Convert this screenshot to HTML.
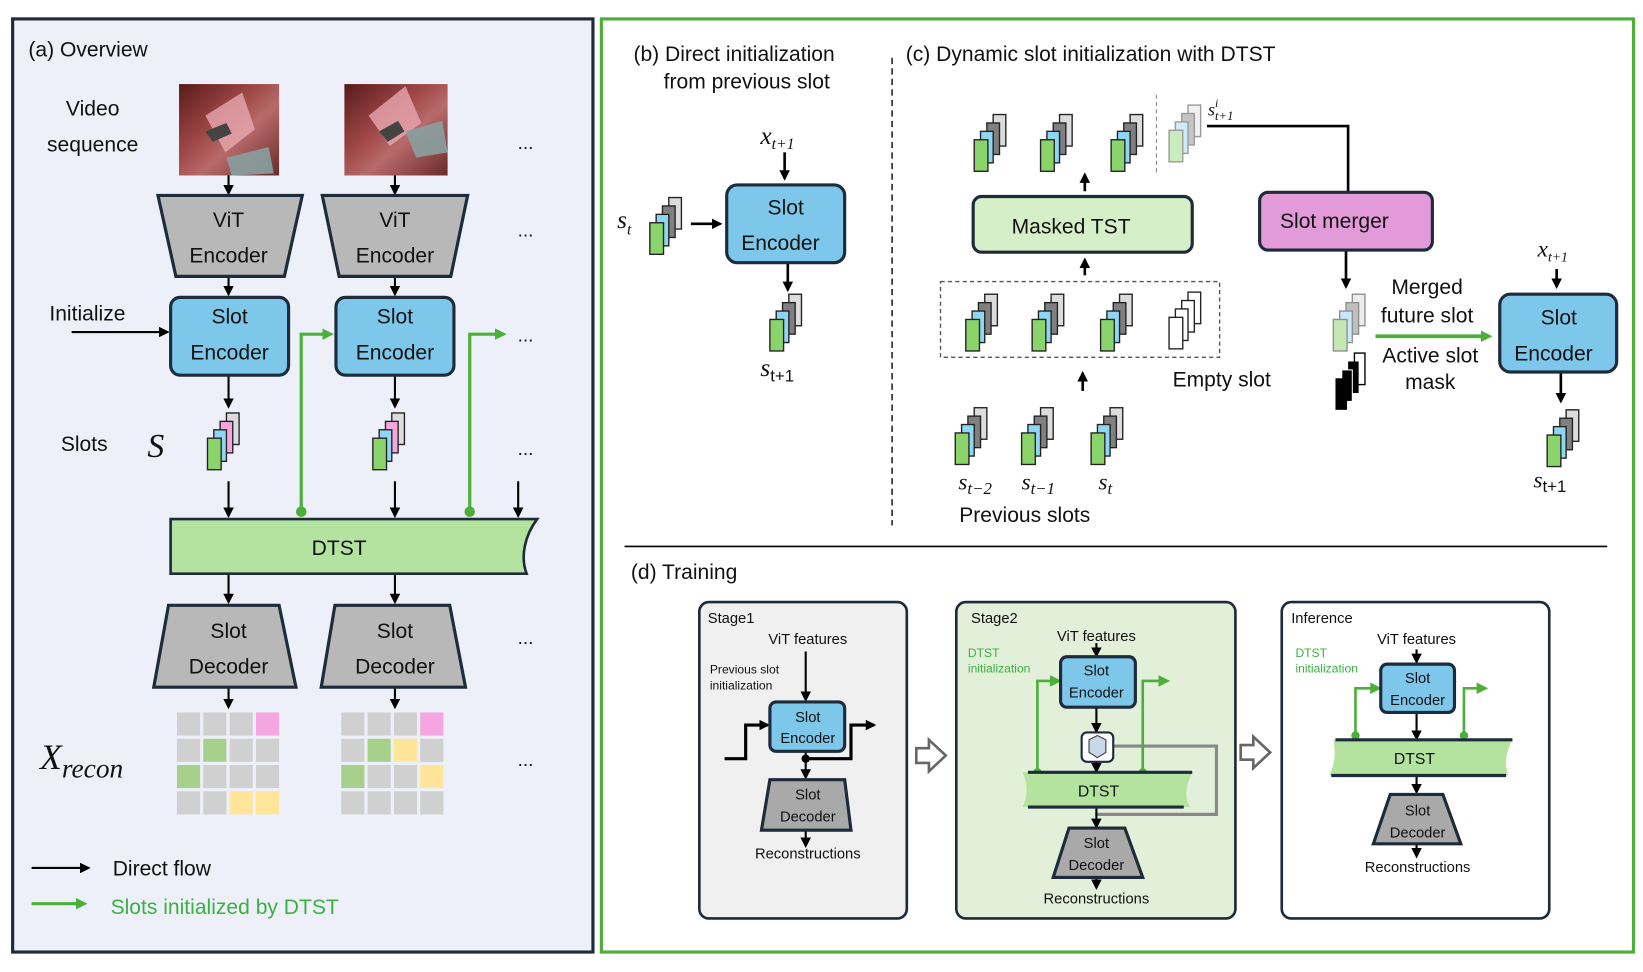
<!DOCTYPE html>
<html><head><meta charset="utf-8"><style>
html,body{margin:0;padding:0;background:#fff}
svg{display:block}
text{font-family:"Liberation Sans",sans-serif;fill:#111}
.c{text-anchor:middle}
.m{font-family:"Liberation Serif",serif;font-style:italic}
</style></head><body>
<svg width="1643" height="972" viewBox="0 0 1560 925" preserveAspectRatio="none" xmlns="http://www.w3.org/2000/svg">
<defs>
<marker id="ab" markerWidth="10" markerHeight="10" refX="8" refY="5" orient="auto" markerUnits="userSpaceOnUse"><path d="M0,0 L10,5 L0,10 Z" fill="#000"/></marker>
<marker id="ag" markerWidth="11" markerHeight="11" refX="8" refY="5.5" orient="auto" markerUnits="userSpaceOnUse"><path d="M0,0 L11,5.5 L0,11 Z" fill="#4caf3a"/></marker>
<g id="stk"><rect x="18" y="0" width="12" height="30" fill="#dcdcdc" stroke="#222" stroke-width="1.3"/><rect x="12" y="8" width="12" height="30" fill="#808080" stroke="#222" stroke-width="1.3"/><rect x="6" y="16" width="12" height="30" fill="#8fd6f2" stroke="#222" stroke-width="1.3"/><rect x="0" y="24" width="13" height="30" fill="#8bd36b" stroke="#222" stroke-width="1.3"/></g>
<g id="stkP"><rect x="18" y="0" width="12" height="30" fill="#dcdcdc" stroke="#222" stroke-width="1.3"/><rect x="12" y="8" width="12" height="30" fill="#f4a6e0" stroke="#222" stroke-width="1.3"/><rect x="6" y="16" width="12" height="30" fill="#8fd6f2" stroke="#222" stroke-width="1.3"/><rect x="0" y="24" width="13" height="30" fill="#8bd36b" stroke="#222" stroke-width="1.3"/></g>
<g id="stkE"><rect x="18" y="0" width="12" height="30" fill="#fff" stroke="#222" stroke-width="1.3"/><rect x="12" y="8" width="12" height="30" fill="#fff" stroke="#222" stroke-width="1.3"/><rect x="6" y="16" width="12" height="30" fill="#fff" stroke="#222" stroke-width="1.3"/><rect x="0" y="24" width="13" height="30" fill="#fff" stroke="#222" stroke-width="1.3"/></g>
<g id="stkK"><rect x="18" y="0" width="10" height="30" fill="#fff" stroke="#000" stroke-width="1.3"/><rect x="12" y="8" width="10" height="30" fill="#000"/><rect x="6" y="16" width="10" height="30" fill="#000" stroke="#fff" stroke-width="1"/><rect x="0" y="24" width="11" height="30" fill="#000"/></g>
<linearGradient id="img1" x1="0" y1="0" x2="1" y2="1"><stop offset="0" stop-color="#5a1a1a"/><stop offset=".4" stop-color="#a04848"/><stop offset=".6" stop-color="#b86a6a"/><stop offset="1" stop-color="#6a2a2a"/></linearGradient>
</defs>

<rect x="12" y="18" width="551" height="888" fill="#edf0f8" stroke="#1d2b3a" stroke-width="3"/>
<rect x="571" y="18" width="980" height="888" fill="#fff" stroke="#4caf3a" stroke-width="3"/>

<text x="27" y="54" font-size="20">(a) Overview</text>
<text x="88" y="110" font-size="20" class="c">Video</text>
<text x="88" y="144" font-size="20" class="c">sequence</text>
<rect x="170" y="80" width="95" height="87" fill="url(#img1)"/>
<path d="M195,110 l35,-22 l12,35 l-28,22 z" fill="#e8a8b0" opacity=".8"/><path d="M195,125 l20,-8 l5,10 l-18,8z" fill="#444"/><path d="M215,150 l40,-10 l5,25 l-40,2z" fill="#8aa0a0" opacity=".9"/>
<rect x="327" y="80" width="98" height="87" fill="url(#img1)"/>
<path d="M350,110 l35,-28 l15,35 l-30,22 z" fill="#e8a8b0" opacity=".8"/><path d="M360,125 l18,-10 l6,10 l-16,10z" fill="#444"/><path d="M385,125 l35,-10 l5,30 l-30,5z" fill="#8aa0a0" opacity=".9"/>
<text x="499" y="142" font-size="18" class="c">...</text>
<text x="499" y="225" font-size="18" class="c">...</text>
<text x="499" y="325" font-size="18" class="c">...</text>
<text x="499" y="433" font-size="18" class="c">...</text>
<text x="499" y="613" font-size="18" class="c">...</text>
<text x="499" y="729" font-size="18" class="c">...</text>

<g stroke="#000" stroke-width="2" marker-end="url(#ab)">
<line x1="217" y1="167" x2="217" y2="184"/><line x1="375" y1="167" x2="375" y2="184"/>
<line x1="217" y1="263" x2="217" y2="280"/><line x1="375" y1="263" x2="375" y2="280"/>
<line x1="217" y1="357" x2="217" y2="387"/><line x1="375" y1="357" x2="375" y2="387"/>
<line x1="217" y1="458" x2="217" y2="491"/><line x1="375" y1="458" x2="375" y2="491"/><line x1="492" y1="458" x2="492" y2="491"/>
<line x1="217" y1="546" x2="217" y2="573"/><line x1="375" y1="546" x2="375" y2="573"/>
<line x1="217" y1="654" x2="217" y2="673"/><line x1="375" y1="654" x2="375" y2="673"/>
<line x1="68" y1="316" x2="159" y2="316"/>
<line x1="30" y1="826" x2="84" y2="826"/>
</g>
<g fill="#b8b8b8" stroke="#1d2b3a" stroke-width="3">
<path d="M150,186 H287 L270,263 H167 Z"/><path d="M306,186 H444 L428,263 H322 Z"/>
<path d="M160,576 H265 L281,654 H146 Z"/><path d="M318,576 H427 L442,654 H305 Z"/>
</g>
<text x="217" y="216" font-size="20" class="c">ViT</text><text x="217" y="250" font-size="20" class="c">Encoder</text>
<text x="375" y="216" font-size="20" class="c">ViT</text><text x="375" y="250" font-size="20" class="c">Encoder</text>
<text x="217" y="607" font-size="20" class="c">Slot</text><text x="217" y="641" font-size="20" class="c">Decoder</text>
<text x="375" y="607" font-size="20" class="c">Slot</text><text x="375" y="641" font-size="20" class="c">Decoder</text>
<text x="83" y="305" font-size="20" class="c">Initialize</text>
<g fill="#7dc8ea" stroke="#1d2b3a" stroke-width="3">
<rect x="162" y="283" width="112" height="74" rx="9"/><rect x="319" y="283" width="112" height="74" rx="9"/>
</g>
<text x="218" y="308" font-size="20" class="c">Slot</text><text x="218" y="342" font-size="20" class="c">Encoder</text>
<text x="375" y="308" font-size="20" class="c">Slot</text><text x="375" y="342" font-size="20" class="c">Encoder</text>
<text x="80" y="429" font-size="20" class="c">Slots</text>
<text x="140" y="435" font-size="32" class="m">S</text>
<use href="#stkP" x="197" y="393"/><use href="#stkP" x="354" y="393"/>
<path d="M162,494 H510 C498,510 494,530 500,546 H162 Z" fill="#b4e3a0" stroke="#1d2b3a" stroke-width="2.5"/>
<text x="322" y="528" font-size="20" class="c">DTST</text>
<g stroke="#4caf3a" stroke-width="3" fill="none" marker-end="url(#ag)">
<path d="M286,487 V318 H314"/><path d="M446,487 V318 H478"/>
<line x1="30" y1="860" x2="80" y2="860"/>
</g>
<circle cx="286" cy="487" r="5" fill="#4caf3a"/><circle cx="446" cy="487" r="5" fill="#4caf3a"/>
<g>
<rect x="168" y="678" width="22" height="22" fill="#d0d0d0"/><rect x="193" y="678" width="22" height="22" fill="#d0d0d0"/><rect x="218" y="678" width="22" height="22" fill="#d0d0d0"/><rect x="243" y="678" width="22" height="22" fill="#f4a6e0"/>
<rect x="168" y="703" width="22" height="22" fill="#d0d0d0"/><rect x="193" y="703" width="22" height="22" fill="#a8d08d"/><rect x="218" y="703" width="22" height="22" fill="#d0d0d0"/><rect x="243" y="703" width="22" height="22" fill="#d0d0d0"/>
<rect x="168" y="728" width="22" height="22" fill="#a8d08d"/><rect x="193" y="728" width="22" height="22" fill="#d0d0d0"/><rect x="218" y="728" width="22" height="22" fill="#d0d0d0"/><rect x="243" y="728" width="22" height="22" fill="#d0d0d0"/>
<rect x="168" y="753" width="22" height="22" fill="#d0d0d0"/><rect x="193" y="753" width="22" height="22" fill="#d0d0d0"/><rect x="218" y="753" width="22" height="22" fill="#ffe599"/><rect x="243" y="753" width="22" height="22" fill="#ffe599"/>
<rect x="324" y="678" width="22" height="22" fill="#d0d0d0"/><rect x="349" y="678" width="22" height="22" fill="#d0d0d0"/><rect x="374" y="678" width="22" height="22" fill="#d0d0d0"/><rect x="399" y="678" width="22" height="22" fill="#f4a6e0"/>
<rect x="324" y="703" width="22" height="22" fill="#d0d0d0"/><rect x="349" y="703" width="22" height="22" fill="#a8d08d"/><rect x="374" y="703" width="22" height="22" fill="#ffe599"/><rect x="399" y="703" width="22" height="22" fill="#d0d0d0"/>
<rect x="324" y="728" width="22" height="22" fill="#a8d08d"/><rect x="349" y="728" width="22" height="22" fill="#d0d0d0"/><rect x="374" y="728" width="22" height="22" fill="#d0d0d0"/><rect x="399" y="728" width="22" height="22" fill="#ffe599"/>
<rect x="324" y="753" width="22" height="22" fill="#d0d0d0"/><rect x="349" y="753" width="22" height="22" fill="#d0d0d0"/><rect x="374" y="753" width="22" height="22" fill="#d0d0d0"/><rect x="399" y="753" width="22" height="22" fill="#d0d0d0"/>
</g>
<text x="38" y="732" font-size="34" class="m">X<tspan font-size="26" dy="8">recon</tspan></text>
<text x="107" y="833" font-size="20">Direct flow</text>
<text x="105" y="870" font-size="20" style="fill:#3cb043">Slots initialized by DTST</text>

<text x="697" y="58" font-size="20" class="c">(b) Direct initialization</text>
<text x="709" y="84" font-size="20" class="c">from previous slot</text>
<text x="722" y="137" font-size="24" class="m">x<tspan font-size="15" dy="5">t+1</tspan></text>
<g stroke="#000" stroke-width="2.5" marker-end="url(#ab)">
<line x1="745" y1="145" x2="745" y2="170"/><line x1="656" y1="213" x2="684" y2="213"/><line x1="748" y1="250" x2="748" y2="276"/>
</g>
<text x="586" y="217" font-size="24" class="m">s<tspan font-size="15" dy="6">t</tspan></text>
<use href="#stk" x="617" y="188"/>
<rect x="690" y="176" width="112" height="74" rx="10" fill="#7dc8ea" stroke="#1d2b3a" stroke-width="3"/>
<text x="746" y="204" font-size="20" class="c">Slot</text><text x="741" y="238" font-size="20" class="c">Encoder</text>
<use href="#stk" x="731" y="280"/>
<text x="722" y="358" font-size="24" class="m">s<tspan font-size="16" dy="5" font-style="normal" font-family="Liberation Sans">t+1</tspan></text>

<line x1="847" y1="55" x2="847" y2="500" stroke="#000" stroke-width="1.3" stroke-dasharray="6,4"/>
<line x1="593" y1="520" x2="1526" y2="520" stroke="#000" stroke-width="1.5"/>

<text x="860" y="58" font-size="20">(c) Dynamic slot initialization with DTST</text>
<use href="#stk" x="925" y="109"/><use href="#stk" x="988" y="109"/><use href="#stk" x="1055" y="109"/>
<line x1="1098" y1="90" x2="1098" y2="165" stroke="#888" stroke-width="1" stroke-dasharray="4,3"/>
<use href="#stk" x="1110" y="100" opacity=".45"/>
<text x="1147" y="110" font-size="17" class="m">s<tspan font-size="11" dy="-8">i</tspan><tspan font-size="12" dx="-3" dy="12">t+1</tspan></text>
<path d="M1146,120 H1280 V183" fill="none" stroke="#000" stroke-width="2.5"/>
<g stroke="#000" stroke-width="2.5" marker-end="url(#ab)">
<line x1="1030" y1="182" x2="1030" y2="166"/><line x1="1030" y1="262" x2="1030" y2="247"/><line x1="1028" y1="372" x2="1028" y2="355"/>
<line x1="1278" y1="238" x2="1278" y2="273"/><line x1="1478" y1="256" x2="1478" y2="273"/><line x1="1482" y1="354" x2="1482" y2="382"/>
</g>
<rect x="924" y="187" width="208" height="53" rx="8" fill="#d5f0c8" stroke="#1d2b3a" stroke-width="3"/>
<text x="1017" y="222" font-size="20" class="c">Masked TST</text>
<rect x="1196" y="183" width="164" height="55" rx="8" fill="#e39ad9" stroke="#1d2b3a" stroke-width="3"/>
<text x="1267" y="217" font-size="20" class="c">Slot merger</text>
<rect x="893" y="268" width="265" height="72" fill="none" stroke="#555" stroke-width="1.3" stroke-dasharray="4,3"/>
<use href="#stk" x="917" y="280"/><use href="#stk" x="980" y="280"/><use href="#stk" x="1045" y="280"/><use href="#stkE" x="1110" y="278"/>
<text x="1160" y="368" font-size="20" class="c">Empty slot</text>
<use href="#stk" x="907" y="388"/><use href="#stk" x="970" y="388"/><use href="#stk" x="1036" y="388"/>
<text x="910" y="466" font-size="22" class="m">s<tspan font-size="16" dy="4">t−2</tspan></text>
<text x="970" y="466" font-size="22" class="m">s<tspan font-size="16" dy="4">t−1</tspan></text>
<text x="1043" y="466" font-size="22" class="m">s<tspan font-size="16" dy="4">t</tspan></text>
<text x="973" y="497" font-size="20" class="c">Previous slots</text>
<use href="#stk" x="1266" y="280" opacity=".5"/>
<use href="#stkK" x="1268" y="336"/>
<text x="1355" y="280" font-size="20" class="c">Merged</text>
<text x="1355" y="307" font-size="20" class="c">future slot</text>
<text x="1358" y="345" font-size="20" class="c">Active slot</text>
<text x="1358" y="370" font-size="20" class="c">mask</text>
<line x1="1306" y1="320" x2="1414" y2="320" stroke="#4caf3a" stroke-width="3.5" marker-end="url(#ag)"/>
<text x="1460" y="244" font-size="22" class="m">x<tspan font-size="13" dy="5">t+1</tspan></text>
<rect x="1424" y="280" width="111" height="74" rx="10" fill="#7dc8ea" stroke="#1d2b3a" stroke-width="3"/>
<text x="1480" y="309" font-size="20" class="c">Slot</text><text x="1475" y="343" font-size="20" class="c">Encoder</text>
<use href="#stk" x="1469" y="390"/>
<text x="1456" y="464" font-size="22" class="m">s<tspan font-size="16" dy="4" font-style="normal" font-family="Liberation Sans">t+1</tspan></text>

<text x="599" y="551" font-size="20">(d) Training</text>
<rect x="664" y="573" width="197" height="301" rx="9" fill="#f0f0f0" stroke="#1d2b3a" stroke-width="2.5"/>
<rect x="908" y="573" width="265" height="301" rx="9" fill="#e2efd9" stroke="#1d2b3a" stroke-width="2.5"/>
<rect x="1217" y="573" width="254" height="301" rx="9" fill="#fff" stroke="#1d2b3a" stroke-width="2.5"/>
<text x="672" y="593" font-size="14">Stage1</text>
<text x="767" y="613" font-size="14" class="c">ViT features</text>
<text x="674" y="641" font-size="11.5">Previous slot</text>
<text x="674" y="656" font-size="11.5">initialization</text>
<g stroke="#000" stroke-width="2" marker-end="url(#ab)" fill="none">
<line x1="765" y1="620" x2="765" y2="666"/><line x1="765" y1="715" x2="765" y2="740"/><line x1="765" y1="790" x2="765" y2="805"/>
<path d="M688,722 H708 V690 H729" stroke-width="3"/><path d="M765,722 H808 V690 H830" stroke-width="3"/>
</g>
<circle cx="765" cy="722" r="4" fill="#000"/>
<rect x="731" y="668" width="71" height="47" rx="6" fill="#7dc8ea" stroke="#1d2b3a" stroke-width="3"/>
<text x="767" y="687" font-size="14" class="c">Slot</text><text x="767" y="707" font-size="14" class="c">Encoder</text>
<path d="M731,742 H802 L808,790 H723 Z" fill="#a9a9a9" stroke="#1d2b3a" stroke-width="3"/>
<text x="767" y="761" font-size="14" class="c">Slot</text><text x="767" y="782" font-size="14" class="c">Decoder</text>
<text x="767" y="817" font-size="14" class="c">Reconstructions</text>
<path d="M870,712 h12 v-8 l16,15 l-16,15 v-8 h-12 z" fill="#fff" stroke="#666" stroke-width="2.5"/>
<path d="M1178,709 h12 v-8 l16,15 l-16,15 v-8 h-12 z" fill="#fff" stroke="#666" stroke-width="2.5"/>
<text x="922" y="593" font-size="14">Stage2</text>
<text x="1041" y="610" font-size="14" class="c">ViT features</text>
<text x="919" y="625" font-size="11.5" style="fill:#3cb043">DTST</text>
<text x="919" y="640" font-size="11.5" style="fill:#3cb043">initialization</text>
<path d="M1057,710 H1155 V775 H1040" fill="none" stroke="#888" stroke-width="3"/>
<g stroke="#000" stroke-width="2" marker-end="url(#ab)">
<line x1="1041" y1="612" x2="1041" y2="624"/><line x1="1041" y1="673" x2="1041" y2="696"/><line x1="1041" y1="725" x2="1041" y2="734"/>
<line x1="1041" y1="768" x2="1041" y2="787"/><line x1="1041" y1="835" x2="1041" y2="845"/>
</g>
<g stroke="#4caf3a" stroke-width="2.5" fill="none" marker-end="url(#ag)">
<path d="M985,735 V648 H1005"/><path d="M1085,735 V648 H1108"/>
</g>
<circle cx="985" cy="735" r="4" fill="#4caf3a"/><circle cx="1085" cy="735" r="4" fill="#4caf3a"/>
<rect x="1007" y="625" width="71" height="48" rx="6" fill="#7dc8ea" stroke="#1d2b3a" stroke-width="3"/>
<text x="1041" y="643" font-size="14" class="c">Slot</text><text x="1041" y="664" font-size="14" class="c">Encoder</text>
<rect x="1027" y="697" width="30" height="28" rx="5" fill="#fff" stroke="#1d2b3a" stroke-width="2"/>
<path d="M1034,704 l8,-4 l8,4 v12 l-8,5 l-8,-5z" fill="#c8d8e8" stroke="#333" stroke-width="1"/>
<path d="M971,735 H1132 C1126,748 1124,758 1130,768 H971 C976,757 976,746 971,735 Z" fill="#b4e3a0"/>
<line x1="976" y1="735" x2="1132" y2="735" stroke="#1d2b3a" stroke-width="3"/><line x1="976" y1="768" x2="1124" y2="768" stroke="#1d2b3a" stroke-width="3"/>
<text x="1043" y="758" font-size="15" class="c">DTST</text>
<path d="M1015,788 H1068 L1085,835 H1000 Z" fill="#a9a9a9" stroke="#1d2b3a" stroke-width="3"/>
<text x="1041" y="807" font-size="14" class="c">Slot</text><text x="1041" y="828" font-size="14" class="c">Decoder</text>
<text x="1041" y="860" font-size="14" class="c">Reconstructions</text>
<text x="1226" y="593" font-size="14">Inference</text>
<text x="1345" y="613" font-size="14" class="c">ViT features</text>
<text x="1230" y="625" font-size="11.5" style="fill:#3cb043">DTST</text>
<text x="1230" y="640" font-size="11.5" style="fill:#3cb043">initialization</text>
<g stroke="#000" stroke-width="2" marker-end="url(#ab)">
<line x1="1345" y1="618" x2="1345" y2="630"/><line x1="1345" y1="678" x2="1345" y2="703"/><line x1="1345" y1="737" x2="1345" y2="754"/><line x1="1345" y1="803" x2="1345" y2="815"/>
</g>
<g stroke="#4caf3a" stroke-width="2.5" fill="none" marker-end="url(#ag)">
<path d="M1287,700 V655 H1309"/><path d="M1390,700 V655 H1410"/>
</g>
<circle cx="1287" cy="700" r="4" fill="#4caf3a"/><circle cx="1390" cy="700" r="4" fill="#4caf3a"/>
<rect x="1311" y="632" width="70" height="46" rx="6" fill="#7dc8ea" stroke="#1d2b3a" stroke-width="3"/>
<text x="1346" y="650" font-size="14" class="c">Slot</text><text x="1346" y="671" font-size="14" class="c">Encoder</text>
<path d="M1266,704 H1436 C1430,716 1428,726 1432,738 H1262 C1268,726 1268,716 1266,704 Z" fill="#b4e3a0"/>
<line x1="1268" y1="704" x2="1436" y2="704" stroke="#1d2b3a" stroke-width="3"/><line x1="1264" y1="738" x2="1430" y2="738" stroke="#1d2b3a" stroke-width="3"/>
<text x="1343" y="727" font-size="15" class="c">DTST</text>
<path d="M1320,756 H1370 L1387,803 H1304 Z" fill="#a9a9a9" stroke="#1d2b3a" stroke-width="3"/>
<text x="1346" y="776" font-size="14" class="c">Slot</text><text x="1346" y="797" font-size="14" class="c">Decoder</text>
<text x="1346" y="830" font-size="14" class="c">Reconstructions</text>
</svg>
</body></html>
